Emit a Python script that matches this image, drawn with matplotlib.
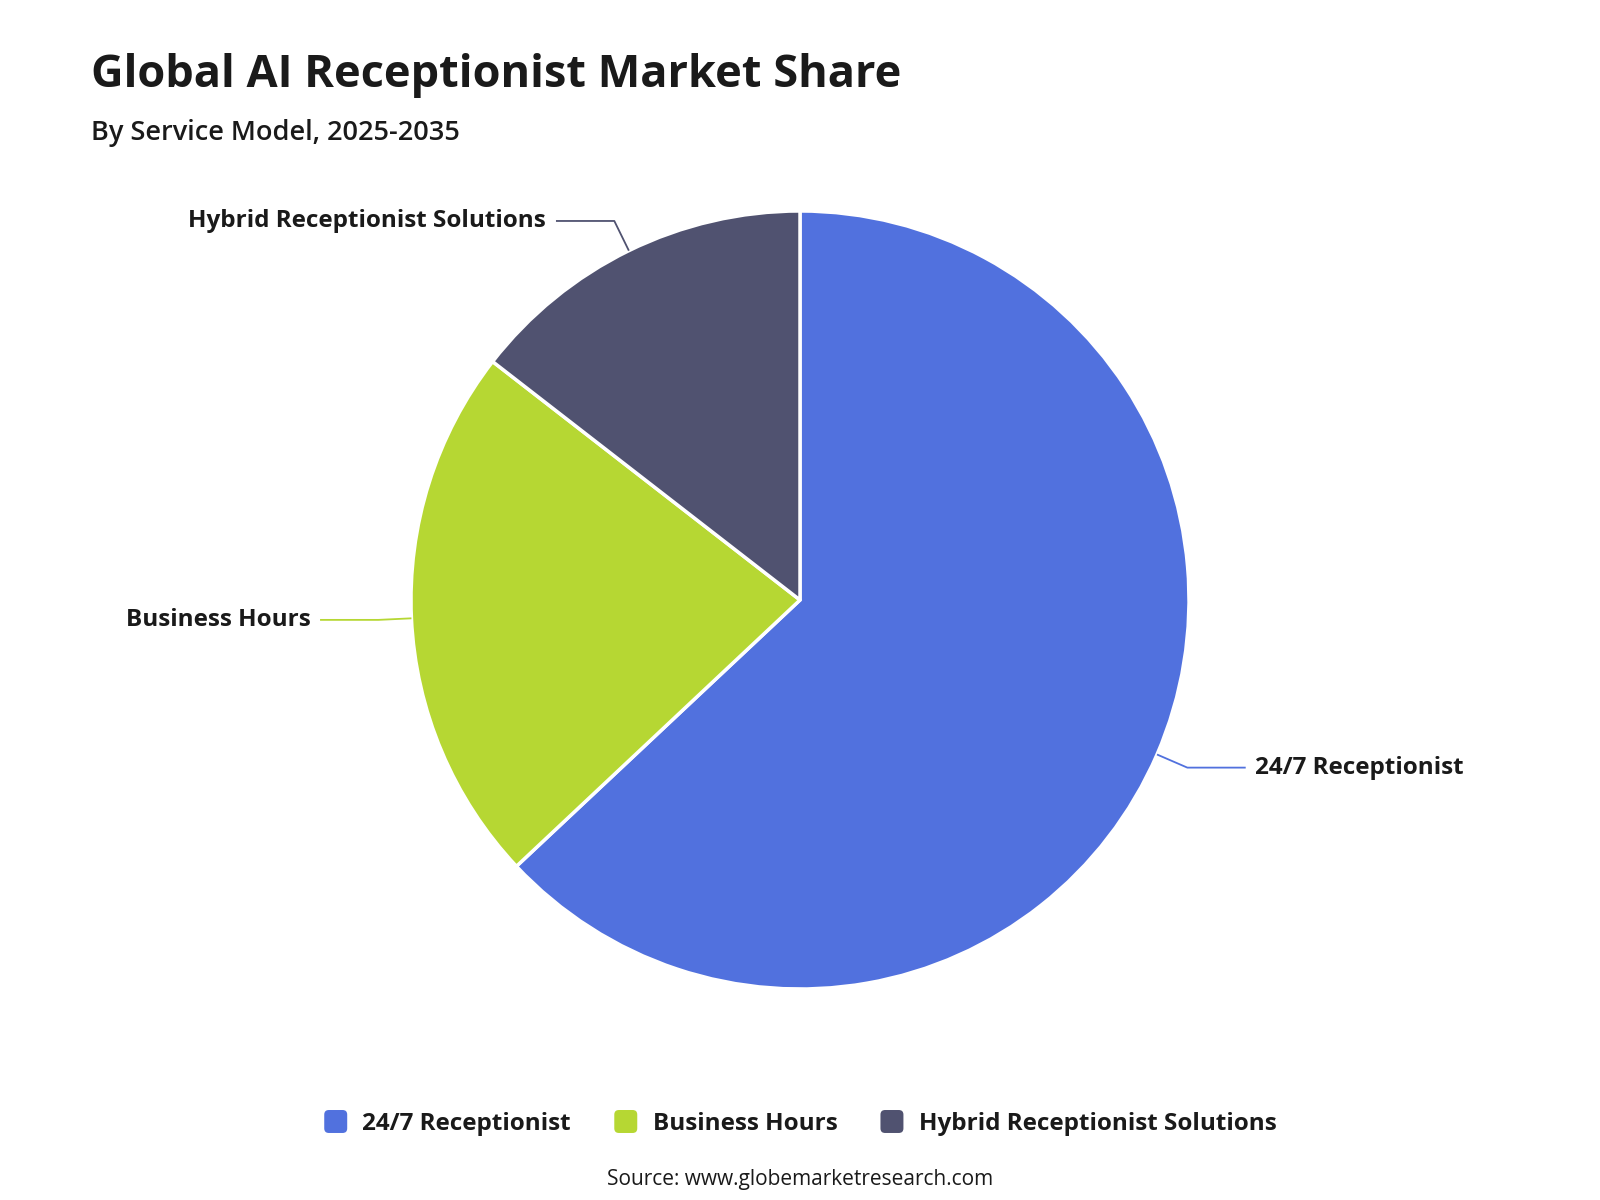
import numpy as np
import matplotlib.pyplot as plt
from matplotlib.patches import FancyBboxPatch
from matplotlib.legend_handler import HandlerPatch

# data
labels = ["24/7 Receptionist", "Business Hours", "Hybrid Receptionist Solutions"]
shares = [63.0, 22.5, 14.5]
colors = ["#5171DE", "#B6D733", "#505270"]

title = "Global AI Receptionist Market Share"
subtitle = "By Service Model, 2025-2035"
source = "Source: www.globemarketresearch.com"

plt.rcParams['font.family'] = ['Open Sans', 'DejaVu Sans']
txt_color = "#1a1a1a"


class RoundSquare(HandlerPatch):
    def create_artists(self, legend, orig_handle, xdescent, ydescent,
                       width, height, fontsize, trans):
        s = height * 1.35
        p = FancyBboxPatch((xdescent + (width - s) / 2, ydescent + (height - s) / 2),
                           s, s, boxstyle="round,pad=0,rounding_size=%f" % (s * 0.2),
                           facecolor=orig_handle.get_facecolor(), edgecolor='none',
                           transform=trans)
        return [p]


def main():
    fig = plt.figure(figsize=(16, 12), dpi=100)
    W, H = 1600, 1200
    cx, cy, r = 800, 600, 389
    ax = fig.add_axes([(cx - r) / W, 1 - (cy + r) / H, 2 * r / W, 2 * r / H])

    wedges, _ = ax.pie(shares, colors=colors, startangle=90, counterclock=False,
                       radius=1.0,
                       wedgeprops=dict(edgecolor='white', linewidth=2.5,
                                       joinstyle='round'))
    # pie() sets its own limits, override so radius fills the axes
    ax.set_xlim(-1, 1)
    ax.set_ylim(-1, 1)
    ax.axis('off')

    # labels with elbow connectors
    total = sum(shares)
    cum = 0.0
    for lab, val, col in zip(labels, shares, colors):
        mid = 90 - (cum + val / 2) / total * 360
        cum += val
        a = np.deg2rad(mid)
        ca, sa = np.cos(a), np.sin(a)
        side = 1 if ca >= 0 else -1
        p0 = (1.0 * ca, 1.0 * sa)
        p1 = (1.085 * ca, 1.085 * sa)
        p2 = (p1[0] + side * 0.15, p1[1])
        ax.plot([p0[0], p1[0], p2[0]], [p0[1], p1[1], p2[1]], color=col,
                lw=1.3, clip_on=False, solid_capstyle='butt')
        ax.annotate(lab, xy=p2, xytext=(side * 7, 0), textcoords='offset points',
                    ha='left' if side > 0 else 'right', va='center',
                    annotation_clip=False,
                    fontsize=17.5, fontweight='bold', color=txt_color)

    fig.text(91 / W, 1 - 87 / H, title, fontsize=32.5, fontweight='bold',
             color=txt_color, ha='left', va='baseline')
    fig.text(91 / W, 1 - 140 / H, subtitle, fontsize=19.5, fontweight='semibold',
             color=txt_color, ha='left', va='baseline')

    handles = [plt.Rectangle((0, 0), 1, 1, facecolor=c) for c in colors]
    fig.legend(handles, labels, loc='center', bbox_to_anchor=(0.5, 1 - 1124 / H),
               ncol=3, frameon=False, handler_map={plt.Rectangle: RoundSquare()},
               prop=dict(size=17.5, weight='bold'), labelcolor=txt_color,
               handlelength=1.0, handletextpad=0.6, columnspacing=1.75)

    fig.text(0.5, 1 - 1180 / H, source, fontsize=15, color=txt_color,
             ha='center', va='center')

    fig.savefig("out.png", dpi=100, facecolor='white')


if __name__ == "__main__":
    main()
